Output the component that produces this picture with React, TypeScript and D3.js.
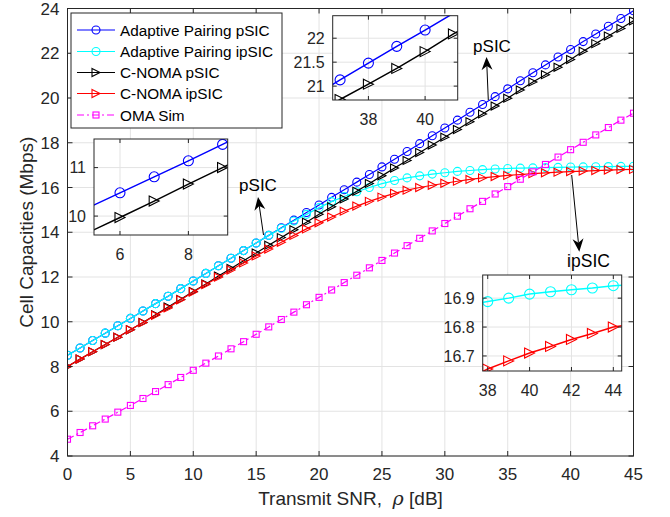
import React from 'react';
import * as d3 from 'd3';

const SNR_DB = [0,1,2,3,4,5,6,7,8,9,10,11,12,13,14,15,16,17,18,19,20,21,22,23,24,25,26,27,28,29,30,31,32,33,34,35,36,37,38,39,40,41,42,43,44,45];

const ADAPTIVE_PSIC = [8.50,8.83,9.16,9.49,9.82,10.15,10.48,10.81,11.14,11.48,11.82,12.16,12.50,12.84,13.18,13.52,13.86,14.20,14.54,14.88,15.22,15.56,15.90,16.24,16.58,16.92,17.26,17.61,17.96,18.31,18.66,19.01,19.36,19.71,20.06,20.41,20.77,21.13,21.48,21.83,22.17,22.52,22.86,23.21,23.55,23.90];

const ADAPTIVE_IPSIC = [8.50,8.83,9.16,9.49,9.82,10.15,10.48,10.81,11.14,11.48,11.82,12.16,12.50,12.84,13.18,13.52,13.86,14.18,14.50,14.80,15.10,15.37,15.60,15.81,16.00,16.17,16.31,16.43,16.52,16.60,16.66,16.72,16.76,16.80,16.83,16.85,16.865,16.877,16.888,16.90,16.914,16.922,16.929,16.935,16.943,16.947];

const CNOMA_PSIC = [8.00,8.33,8.66,8.98,9.31,9.64,9.97,10.31,10.66,11.00,11.35,11.69,12.04,12.38,12.73,13.07,13.42,13.76,14.11,14.45,14.80,15.14,15.49,15.83,16.18,16.52,16.87,17.21,17.56,17.90,18.25,18.59,18.94,19.29,19.64,19.99,20.36,20.72,21.04,21.37,21.72,22.09,22.43,22.77,23.11,23.45];

const CNOMA_IPSIC = [8.00,8.33,8.66,8.98,9.31,9.64,9.96,10.29,10.62,10.98,11.33,11.66,11.99,12.31,12.63,12.94,13.25,13.55,13.86,14.15,14.42,14.68,14.94,15.17,15.38,15.57,15.74,15.88,16.00,16.10,16.19,16.28,16.36,16.43,16.49,16.54,16.58,16.62,16.655,16.683,16.71,16.733,16.757,16.778,16.80,16.81];

const OMA_SIM = [4.75,5.05,5.35,5.65,5.96,6.26,6.57,6.88,7.19,7.51,7.83,8.15,8.47,8.79,9.11,9.44,9.77,10.10,10.43,10.76,11.09,11.42,11.75,12.08,12.41,12.74,13.07,13.40,13.73,14.06,14.39,14.72,15.05,15.38,15.71,16.04,16.37,16.70,17.03,17.36,17.69,18.02,18.35,18.68,19.01,19.32];

const X_TICKS = [0,5,10,15,20,25,30,35,40,45];
const Y_TICKS = [4,6,8,10,12,14,16,18,20,22,24];
const INSET1_X_TICKS = [6,8];
const INSET1_Y_TICKS = [10,11];
const INSET2_X_TICKS = [38,40];
const INSET2_Y_TICKS = [21,21.5,22];
const INSET3_X_TICKS = [38,40,42,44];
const INSET3_Y_TICKS = [16.7,16.8,16.9];

const LEGEND_LABELS = ['Adaptive Pairing pSIC','Adaptive Pairing ipSIC','C-NOMA pSIC','C-NOMA ipSIC','OMA Sim'];

type Marker = 'circle' | 'tri' | 'square';
interface Series { key: string; label: string; values: number[]; color: string; marker: Marker; dash?: string; }

const SERIES: Series[] = [
  { key: 'ap', label: LEGEND_LABELS[0], values: ADAPTIVE_PSIC, color: '#0000ff', marker: 'circle' },
  { key: 'ai', label: LEGEND_LABELS[1], values: ADAPTIVE_IPSIC, color: '#00ffff', marker: 'circle' },
  { key: 'cp', label: LEGEND_LABELS[2], values: CNOMA_PSIC, color: '#000000', marker: 'tri' },
  { key: 'ci', label: LEGEND_LABELS[3], values: CNOMA_IPSIC, color: '#ff0000', marker: 'tri' },
  { key: 'om', label: LEGEND_LABELS[4], values: OMA_SIM, color: '#ff00ff', marker: 'square', dash: '7,3,2,3' },
];

const FONT = '"Liberation Sans", Arial, Helvetica, sans-serif';
const AX = '#262626';
const GRID = '#e3e3e3';

function MarkerShape({ type, x, y, size, color }: { type: Marker; x: number; y: number; size: number; color: string }) {
  if (type === 'circle') return <circle cx={x} cy={y} r={size / 2} fill="none" stroke={color} strokeWidth={1.1} />;
  if (type === 'square') {
    const s = size;
    return <rect x={x - s / 2} y={y - s / 2} width={s} height={s} fill="none" stroke={color} strokeWidth={1.1} />;
  }
  const h = size / 2;
  return <path d={`M${x - h},${y - h}L${x + h},${y}L${x - h},${y + h}Z`} fill="none" stroke={color} strokeWidth={1.1} />;
}

function Arrow({ x1, y1, x2, y2 }: { x1: number; y1: number; x2: number; y2: number }) {
  const dx = x2 - x1, dy = y2 - y1;
  const len = Math.hypot(dx, dy);
  const ux = dx / len, uy = dy / len;
  const px = -uy, py = ux;
  const L = 13, Wd = 5.5;
  const bx = x2 - ux * L, by = y2 - uy * L;
  const nx = x2 - ux * L * 0.7, ny = y2 - uy * L * 0.7;
  return (
    <g>
      <line x1={x1} y1={y1} x2={nx} y2={ny} stroke="#000" strokeWidth={1} />
      <path d={`M${x2},${y2}L${bx + px * Wd},${by + py * Wd}L${nx},${ny}L${bx - px * Wd},${by - py * Wd}Z`} fill="#000" />
    </g>
  );
}

interface InsetProps {
  id: string; box: [number, number, number, number]; xDom: [number, number]; yDom: [number, number];
  xTicks: number[]; yTicks: number[]; series: Series[]; msize: number; yfmt?: (v: number) => string;
}

function Inset({ id, box, xDom, yDom, xTicks, yTicks, series, msize, yfmt }: InsetProps) {
  const [x0, y0, x1, y1] = box;
  const xs = d3.scaleLinear().domain(xDom).range([x0, x1]);
  const ys = d3.scaleLinear().domain(yDom).range([y1, y0]);
  const line = d3.line<number>().x((_, i) => xs(SNR_DB[i])).y((d) => ys(d));
  const f = yfmt || ((v: number) => String(v));
  return (
    <g>
      <defs>
        <clipPath id={id}><rect x={x0} y={y0} width={x1 - x0} height={y1 - y0} /></clipPath>
      </defs>
      <rect x={x0} y={y0} width={x1 - x0} height={y1 - y0} fill="#fff" />
      {xTicks.map((t) => <line key={'gx' + t} x1={xs(t)} x2={xs(t)} y1={y0} y2={y1} stroke={GRID} />)}
      {yTicks.map((t) => <line key={'gy' + t} x1={x0} x2={x1} y1={ys(t)} y2={ys(t)} stroke={GRID} />)}
      <g clipPath={`url(#${id})`}>
        {series.map((s) => (
          <g key={s.key}>
            <path d={line(s.values) || ''} fill="none" stroke={s.color} strokeWidth={1.5} />
            {s.values.map((v, i) => {
              const xv = SNR_DB[i];
              if (xv < xDom[0] || xv > xDom[1] || v < yDom[0] || v > yDom[1]) return null;
              return <MarkerShape key={i} type={s.marker} x={xs(xv)} y={ys(v)} size={msize} color={s.color} />;
            })}
          </g>
        ))}
      </g>
      {xTicks.map((t) => (
        <g key={'tx' + t}>
          <line x1={xs(t)} x2={xs(t)} y1={y1} y2={y1 - 4} stroke={AX} />
          <line x1={xs(t)} x2={xs(t)} y1={y0} y2={y0 + 4} stroke={AX} />
          <text x={xs(t)} y={y1 + 25} textAnchor="middle" fontSize={16} fill={AX} fontFamily={FONT}>{t}</text>
        </g>
      ))}
      {yTicks.map((t) => (
        <g key={'ty' + t}>
          <line x1={x0} x2={x0 + 4} y1={ys(t)} y2={ys(t)} stroke={AX} />
          <line x1={x1} x2={x1 - 4} y1={ys(t)} y2={ys(t)} stroke={AX} />
          <text x={x0 - 8} y={ys(t)} dy="0.36em" textAnchor="end" fontSize={16} fill={AX} fontFamily={FONT}>{f(t)}</text>
        </g>
      ))}
      <rect x={x0} y={y0} width={x1 - x0} height={y1 - y0} fill="none" stroke={AX} strokeWidth={1} />
    </g>
  );
}

export default function App() {
  const W = 670, H = 517;
  const L = 67.5, R = 633.5, T = 8.5, B = 456;
  const x = d3.scaleLinear().domain([0, 45]).range([L, R]);
  const y = d3.scaleLinear().domain([4, 24]).range([B, T]);
  const line = d3.line<number>().x((_, i) => x(SNR_DB[i])).y((d) => y(d));

  const legX = 71, legY = 13, legW = 211, legH = 115;
  const rowY = [30, 51.5, 72.5, 93.5, 115];

  return (
    <svg width={W} height={H} style={{ position: 'absolute', left: 0, top: 0, background: '#fff' }} fontFamily={FONT}>
      <rect x={0} y={0} width={W} height={H} fill="#fff" />
      <defs>
        <clipPath id="mainclip"><rect x={L} y={T} width={R - L} height={B - T} /></clipPath>
      </defs>
      {X_TICKS.map((t) => <line key={'gx' + t} x1={x(t)} x2={x(t)} y1={T} y2={B} stroke={GRID} />)}
      {Y_TICKS.map((t) => <line key={'gy' + t} x1={L} x2={R} y1={y(t)} y2={y(t)} stroke={GRID} />)}

      <g clipPath="url(#mainclip)">
        {SERIES.map((s) => (
          <g key={s.key}>
            <path d={line(s.values) || ''} fill="none" stroke={s.color} strokeWidth={1.2} strokeDasharray={s.dash} />
            {s.values.map((v, i) => (
              <MarkerShape key={i} type={s.marker} x={x(SNR_DB[i])} y={y(v)} size={s.marker === 'square' ? 6 : 8} color={s.color} />
            ))}
          </g>
        ))}
      </g>

      {X_TICKS.map((t) => (
        <g key={'tx' + t}>
          <line x1={x(t)} x2={x(t)} y1={B} y2={B - 5} stroke={AX} />
          <line x1={x(t)} x2={x(t)} y1={T} y2={T + 5} stroke={AX} />
          <text x={x(t)} y={B + 24} textAnchor="middle" fontSize={17} fill={AX}>{t}</text>
        </g>
      ))}
      {Y_TICKS.map((t) => (
        <g key={'ty' + t}>
          <line x1={L} x2={L + 5} y1={y(t)} y2={y(t)} stroke={AX} />
          <line x1={R} x2={R - 5} y1={y(t)} y2={y(t)} stroke={AX} />
          <text x={L - 8} y={y(t)} dy="0.36em" textAnchor="end" fontSize={17} fill={AX}>{t}</text>
        </g>
      ))}
      <rect x={L} y={T} width={R - L} height={B - T} fill="none" stroke={AX} strokeWidth={1} />

      <text x={(L + R) / 2} y={505} textAnchor="middle" fontSize={19} fill={AX}>
        Transmit SNR,{'\u00a0\u00a0'}<tspan fontStyle="italic" fontFamily='"DejaVu Serif", serif'>ρ</tspan> [dB]
      </text>
      <text transform={`translate(33,${(T + B) / 2}) rotate(-90)`} textAnchor="middle" fontSize={19} fill={AX}>
        Cell Capacities (Mbps)
      </text>

      {/* legend */}
      <rect x={legX} y={legY} width={legW} height={legH} fill="#fff" stroke={AX} strokeWidth={1} />
      {SERIES.map((s, i) => (
        <g key={'lg' + s.key}>
          <line x1={77} x2={115} y1={rowY[i]} y2={rowY[i]} stroke={s.color} strokeWidth={1.2} strokeDasharray={s.dash} />
          <MarkerShape type={s.marker} x={96} y={rowY[i]} size={s.marker === 'square' ? 6 : 8} color={s.color} />
          <text x={120} y={rowY[i]} dy="0.36em" fontSize={15.3} fill="#000">{s.label}</text>
        </g>
      ))}

      <Inset id="in1" box={[94, 139, 227.7, 235]} xDom={[5.24, 9.15]} yDom={[9.61, 11.59]}
        xTicks={INSET1_X_TICKS} yTicks={INSET1_Y_TICKS} series={[SERIES[0], SERIES[2]]} msize={10} />
      <Inset id="in2" box={[332.7, 15.7, 457.7, 100]} xDom={[36.74, 41.15]} yDom={[20.71, 22.47]}
        xTicks={INSET2_X_TICKS} yTicks={INSET2_Y_TICKS} series={[SERIES[0], SERIES[2]]} msize={10} />
      <Inset id="in3" box={[482.7, 275, 621.7, 371]} xDom={[37.76, 44.4]} yDom={[16.648, 16.98]}
        xTicks={INSET3_X_TICKS} yTicks={INSET3_Y_TICKS} series={[SERIES[1], SERIES[3]]} msize={10}
        yfmt={(v) => v.toFixed(1)} />

      <Arrow x1={263.5} y1={235} x2={258} y2={197} />
      <text x={258} y={191} textAnchor="middle" fontSize={17} fill="#000">pSIC</text>
      <Arrow x1={488.3} y1={100} x2={486.5} y2={57} />
      <text x={492} y={52} textAnchor="middle" fontSize={17} fill="#000">pSIC</text>
      <Arrow x1={571.7} y1={175} x2={579.3} y2={251.7} />
      <text x={588.5} y={267} textAnchor="middle" fontSize={17.5} fill="#000">ipSIC</text>
    </svg>
  );
}
